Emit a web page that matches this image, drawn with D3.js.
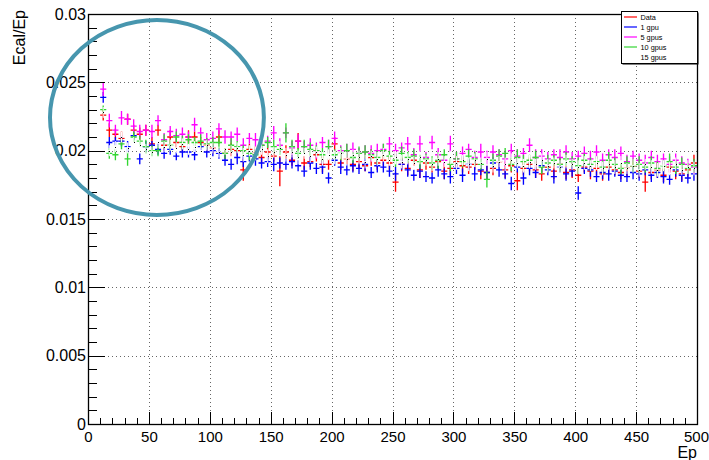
<!DOCTYPE html>
<html>
<head>
<meta charset="utf-8">
<script src="https://cdn.jsdelivr.net/npm/d3@7"></script>
<style>
  body { margin: 0; background: #fff; }
  svg { display: block; font-family: "Liberation Sans", Arial, Helvetica, sans-serif; }
</style>
</head>
<body>
<svg id="chart" width="709" height="460"></svg>
<script>
// Bin centres of the Ep histogram (5-unit bins from 10 to 500)
const binCenters = [
  12.5,17.5,22.5,27.5,32.5,37.5,42.5,47.5,52.5,57.5,
  62.5,67.5,72.5,77.5,82.5,87.5,92.5,97.5,102.5,107.5,
  112.5,117.5,122.5,127.5,132.5,137.5,142.5,147.5,152.5,157.5,
  162.5,167.5,172.5,177.5,182.5,187.5,192.5,197.5,202.5,207.5,
  212.5,217.5,222.5,227.5,232.5,237.5,242.5,247.5,252.5,257.5,
  262.5,267.5,272.5,277.5,282.5,287.5,292.5,297.5,302.5,307.5,
  312.5,317.5,322.5,327.5,332.5,337.5,342.5,347.5,352.5,357.5,
  362.5,367.5,372.5,377.5,382.5,387.5,392.5,397.5,402.5,407.5,
  412.5,417.5,422.5,427.5,432.5,437.5,442.5,447.5,452.5,457.5,
  462.5,467.5,472.5,477.5,482.5,487.5,492.5,497.5
];
const binHalfWidth = 2.5;

// Ecal/Ep per bin, with its error
const dataValues = [
  0.0226,0.0215,0.0212,0.0209,0.0223,0.0215,0.0212,0.0215,0.0205,0.0215,
  0.0204,0.0210,0.0206,0.0203,0.0210,0.0210,0.0206,0.0204,0.0202,0.0210,
  0.0198,0.0201,0.0200,0.0186,0.0201,0.0198,0.0195,0.0199,0.0196,0.0185,
  0.0199,0.0193,0.0207,0.0191,0.0192,0.0197,0.0190,0.0190,0.0205,0.0191,
  0.0194,0.0190,0.0192,0.0189,0.0195,0.0191,0.0193,0.0191,0.0177,0.0190,
  0.0187,0.0193,0.0186,0.0191,0.0188,0.0192,0.0185,0.0187,0.0192,0.0189,
  0.0188,0.0190,0.0185,0.0184,0.0187,0.0192,0.0186,0.0189,0.0178,0.0187,
  0.0190,0.0186,0.0183,0.0188,0.0185,0.0190,0.0184,0.0186,0.0182,0.0188,
  0.0185,0.0187,0.0183,0.0188,0.0186,0.0184,0.0187,0.0189,0.0185,0.0177,
  0.0184,0.0186,0.0182,0.0188,0.0185,0.0183,0.0186,0.0191
];
const dataErrors = [
  0.0004,0.0005,0.0004,0.0005,0.0004,0.0004,0.0005,0.0004,0.0005,0.0004,
  0.0004,0.0005,0.0004,0.0004,0.0005,0.0004,0.0004,0.0005,0.0004,0.0005,
  0.0004,0.0005,0.0004,0.0008,0.0004,0.0005,0.0004,0.0005,0.0004,0.0011,
  0.0005,0.0004,0.0006,0.0005,0.0004,0.0005,0.0006,0.0004,0.0005,0.0005,
  0.0004,0.0005,0.0005,0.0004,0.0006,0.0005,0.0004,0.0005,0.0007,0.0005,
  0.0005,0.0004,0.0006,0.0005,0.0004,0.0005,0.0006,0.0005,0.0004,0.0005,
  0.0005,0.0004,0.0006,0.0005,0.0005,0.0004,0.0006,0.0005,0.0007,0.0005,
  0.0005,0.0006,0.0005,0.0004,0.0006,0.0005,0.0005,0.0006,0.0005,0.0004,
  0.0006,0.0005,0.0005,0.0006,0.0004,0.0005,0.0006,0.0005,0.0005,0.0007,
  0.0005,0.0006,0.0005,0.0004,0.0006,0.0005,0.0005,0.0006
];

const gpu1Values = [
  0.0239,0.0206,0.0207,0.0207,0.0203,0.0211,0.0194,0.0203,0.0204,0.0201,
  0.0198,0.0201,0.0196,0.0199,0.0199,0.0197,0.0203,0.0199,0.0200,0.0198,
  0.0193,0.0190,0.0195,0.0192,0.0196,0.0194,0.0191,0.0192,0.0190,0.0191,
  0.0190,0.0192,0.0189,0.0185,0.0191,0.0187,0.0188,0.0180,0.0193,0.0188,
  0.0186,0.0189,0.0187,0.0190,0.0184,0.0189,0.0188,0.0185,0.0183,0.0190,
  0.0186,0.0182,0.0185,0.0181,0.0180,0.0186,0.0183,0.0181,0.0187,0.0182,
  0.0190,0.0183,0.0186,0.0184,0.0191,0.0186,0.0183,0.0176,0.0188,0.0180,
  0.0187,0.0184,0.0189,0.0186,0.0181,0.0188,0.0183,0.0185,0.0169,0.0187,
  0.0186,0.0181,0.0184,0.0183,0.0185,0.0182,0.0181,0.0184,0.0183,0.0186,
  0.0182,0.0184,0.0181,0.0179,0.0186,0.0182,0.0180,0.0183
];
const gpu1Errors = [
  0.0004,0.0004,0.0003,0.0004,0.0004,0.0003,0.0004,0.0004,0.0003,0.0004,
  0.0004,0.0004,0.0003,0.0004,0.0004,0.0004,0.0003,0.0004,0.0004,0.0004,
  0.0004,0.0004,0.0005,0.0004,0.0004,0.0005,0.0004,0.0004,0.0005,0.0004,
  0.0004,0.0005,0.0004,0.0004,0.0005,0.0004,0.0005,0.0004,0.0004,0.0005,
  0.0004,0.0005,0.0004,0.0005,0.0004,0.0005,0.0004,0.0004,0.0005,0.0004,
  0.0005,0.0004,0.0005,0.0004,0.0004,0.0005,0.0004,0.0005,0.0004,0.0005,
  0.0004,0.0005,0.0004,0.0005,0.0004,0.0005,0.0004,0.0005,0.0004,0.0005,
  0.0005,0.0004,0.0005,0.0004,0.0005,0.0004,0.0005,0.0004,0.0005,0.0004,
  0.0005,0.0004,0.0005,0.0005,0.0004,0.0005,0.0004,0.0005,0.0005,0.0004,
  0.0005,0.0004,0.0005,0.0004,0.0005,0.0005,0.0004,0.0005
];

const gpu5Values = [
  0.0245,0.0222,0.0215,0.0224,0.0223,0.0218,0.0214,0.0215,0.0214,0.0222,
  0.0208,0.0214,0.0211,0.0212,0.0210,0.0219,0.0213,0.0208,0.0209,0.0216,
  0.0210,0.0210,0.0212,0.0204,0.0209,0.0208,0.0204,0.0207,0.0213,0.0204,
  0.0213,0.0202,0.0207,0.0203,0.0204,0.0200,0.0206,0.0203,0.0209,0.0200,
  0.0200,0.0201,0.0198,0.0199,0.0198,0.0200,0.0201,0.0205,0.0200,0.0202,
  0.0205,0.0197,0.0205,0.0195,0.0206,0.0197,0.0193,0.0205,0.0194,0.0198,
  0.0201,0.0195,0.0199,0.0195,0.0199,0.0197,0.0194,0.0200,0.0196,0.0198,
  0.0204,0.0195,0.0196,0.0194,0.0197,0.0195,0.0199,0.0194,0.0196,0.0198,
  0.0194,0.0199,0.0193,0.0197,0.0195,0.0198,0.0192,0.0196,0.0193,0.0191,
  0.0195,0.0192,0.0194,0.0190,0.0193,0.0191,0.0190,0.0188
];
const gpu5Errors = [
  0.0005,0.0005,0.0004,0.0005,0.0004,0.0005,0.0005,0.0004,0.0005,0.0004,
  0.0005,0.0004,0.0005,0.0005,0.0004,0.0005,0.0004,0.0005,0.0005,0.0004,
  0.0005,0.0004,0.0005,0.0005,0.0004,0.0005,0.0005,0.0004,0.0005,0.0005,
  0.0004,0.0005,0.0005,0.0004,0.0005,0.0006,0.0004,0.0005,0.0005,0.0004,
  0.0005,0.0005,0.0004,0.0005,0.0006,0.0005,0.0004,0.0005,0.0005,0.0004,
  0.0005,0.0005,0.0006,0.0004,0.0005,0.0005,0.0004,0.0006,0.0005,0.0005,
  0.0004,0.0005,0.0006,0.0005,0.0005,0.0004,0.0006,0.0005,0.0005,0.0004,
  0.0005,0.0006,0.0005,0.0005,0.0004,0.0006,0.0005,0.0005,0.0004,0.0005,
  0.0006,0.0005,0.0005,0.0004,0.0006,0.0005,0.0005,0.0004,0.0005,0.0006,
  0.0005,0.0005,0.0004,0.0006,0.0005,0.0005,0.0004,0.0005
];

const gpu10Values = [
  0.0230,0.0198,0.0197,0.0205,0.0194,0.0210,0.0207,0.0203,0.0200,0.0200,
  0.0207,0.0204,0.0210,0.0206,0.0208,0.0206,0.0207,0.0205,0.0206,0.0206,
  0.0198,0.0204,0.0203,0.0200,0.0198,0.0197,0.0204,0.0206,0.0203,0.0201,
  0.0213,0.0203,0.0198,0.0203,0.0201,0.0200,0.0197,0.0203,0.0197,0.0198,
  0.0200,0.0195,0.0198,0.0199,0.0197,0.0195,0.0200,0.0196,0.0193,0.0198,
  0.0195,0.0196,0.0192,0.0194,0.0191,0.0193,0.0197,0.0190,0.0194,0.0192,
  0.0196,0.0194,0.0190,0.0179,0.0193,0.0196,0.0198,0.0190,0.0195,0.0192,
  0.0193,0.0195,0.0188,0.0191,0.0193,0.0190,0.0194,0.0192,0.0189,0.0193,
  0.0190,0.0192,0.0188,0.0193,0.0190,0.0187,0.0191,0.0189,0.0190,0.0188,
  0.0191,0.0187,0.0189,0.0192,0.0188,0.0190,0.0187,0.0189
];
const gpu10Errors = [
  0.0003,0.0004,0.0004,0.0004,0.0005,0.0004,0.0004,0.0005,0.0004,0.0004,
  0.0005,0.0004,0.0004,0.0005,0.0004,0.0004,0.0005,0.0004,0.0004,0.0005,
  0.0004,0.0005,0.0004,0.0004,0.0005,0.0004,0.0005,0.0004,0.0005,0.0004,
  0.0007,0.0005,0.0004,0.0005,0.0005,0.0004,0.0005,0.0005,0.0004,0.0005,
  0.0005,0.0004,0.0005,0.0005,0.0004,0.0005,0.0005,0.0004,0.0005,0.0005,
  0.0004,0.0005,0.0005,0.0004,0.0005,0.0006,0.0004,0.0005,0.0005,0.0004,
  0.0005,0.0005,0.0004,0.0006,0.0005,0.0005,0.0004,0.0005,0.0006,0.0005,
  0.0004,0.0005,0.0005,0.0006,0.0004,0.0005,0.0005,0.0004,0.0006,0.0005,
  0.0005,0.0004,0.0005,0.0006,0.0005,0.0004,0.0005,0.0005,0.0006,0.0004,
  0.0005,0.0005,0.0004,0.0006,0.0005,0.0005,0.0004,0.0005
];

const gpu15Values = [
  0.0228,0.0200,0.0203,0.0210,0.0202,0.0206,0.0204,0.0201,0.0199,0.0206,
  0.0203,0.0204,0.0202,0.0205,0.0201,0.0203,0.0200,0.0204,0.0202,0.0199,
  0.0201,0.0199,0.0202,0.0197,0.0200,0.0198,0.0201,0.0196,0.0199,0.0202,
  0.0197,0.0199,0.0195,0.0198,0.0196,0.0199,0.0194,0.0197,0.0195,0.0198,
  0.0194,0.0197,0.0195,0.0192,0.0196,0.0194,0.0197,0.0193,0.0195,0.0192,
  0.0194,0.0191,0.0195,0.0193,0.0190,0.0194,0.0192,0.0195,0.0191,0.0193,
  0.0190,0.0193,0.0191,0.0194,0.0189,0.0192,0.0190,0.0193,0.0191,0.0189,
  0.0192,0.0190,0.0193,0.0189,0.0191,0.0188,0.0192,0.0190,0.0188,0.0191,
  0.0189,0.0191,0.0187,0.0190,0.0188,0.0191,0.0187,0.0189,0.0186,0.0190,
  0.0188,0.0186,0.0189,0.0187,0.0190,0.0186,0.0188,0.0187
];
const gpu15Errors = [
  0.0004,0.0004,0.0004,0.0004,0.0004,0.0004,0.0004,0.0004,0.0004,0.0004,
  0.0004,0.0004,0.0004,0.0004,0.0004,0.0004,0.0004,0.0004,0.0004,0.0004,
  0.0004,0.0005,0.0004,0.0005,0.0004,0.0005,0.0004,0.0005,0.0004,0.0005,
  0.0005,0.0004,0.0005,0.0004,0.0005,0.0004,0.0005,0.0004,0.0005,0.0004,
  0.0005,0.0004,0.0005,0.0005,0.0004,0.0005,0.0005,0.0004,0.0005,0.0005,
  0.0004,0.0005,0.0005,0.0004,0.0005,0.0005,0.0004,0.0005,0.0005,0.0004,
  0.0005,0.0005,0.0004,0.0005,0.0005,0.0004,0.0005,0.0005,0.0004,0.0005,
  0.0005,0.0004,0.0005,0.0005,0.0004,0.0005,0.0005,0.0004,0.0005,0.0005,
  0.0004,0.0005,0.0005,0.0004,0.0005,0.0005,0.0004,0.0005,0.0005,0.0004,
  0.0005,0.0005,0.0004,0.0005,0.0005,0.0004,0.0005,0.0005
];

const seriesNames = ["Data", "1 gpu", "5 gpus", "10 gpus", "15 gpus"];
const seriesColors = ["#ff0000", "#0000ff", "#ff00ff", "#33d633", "#ffffff"];
const seriesValues = [dataValues, gpu1Values, gpu5Values, gpu10Values, gpu15Values];
const seriesErrors = [dataErrors, gpu1Errors, gpu5Errors, gpu10Errors, gpu15Errors];

const xTickValues = [0, 50, 100, 150, 200, 250, 300, 350, 400, 450, 500];
const yTickValues = [0, 0.005, 0.01, 0.015, 0.02, 0.025, 0.03];
const yTickLabels = ["0", "0.005", "0.01", "0.015", "0.02", "0.025", "0.03"];

// Highlight ellipse, in data units: centre (Ep, Ecal/Ep) and radii
const highlight = { cx: 56.6, cy: 0.02243, rx: 87.8, ry: 0.00713 };

const svg = d3.select("#chart");
const W = 709, H = 460;
const frame = { left: 88, right: 697, top: 14, bottom: 424 };

const x = d3.scaleLinear().domain([0, 500]).range([frame.left, frame.right]);
const y = d3.scaleLinear().domain([0, 0.03]).range([frame.bottom, frame.top]);

svg.append("rect").attr("width", W).attr("height", H).attr("fill", "#fff");

// Dotted grid at the major divisions
const grid = svg.append("g").attr("stroke", "#666").attr("stroke-width", 1)
  .attr("stroke-dasharray", "1 3").attr("shape-rendering", "crispEdges");
grid.selectAll("line.gx").data(xTickValues.slice(1, -1)).join("line")
  .attr("x1", d => Math.round(x(d)) + 0.5).attr("x2", d => Math.round(x(d)) + 0.5)
  .attr("y1", frame.top).attr("y2", frame.bottom);
grid.selectAll("line.gy").data(yTickValues.slice(1, -1)).join("line")
  .attr("y1", d => Math.round(y(d)) + 0.5).attr("y2", d => Math.round(y(d)) + 0.5)
  .attr("x1", frame.left).attr("x2", frame.right);

// Error-bar crosses for each series, drawn in order so later series overlay earlier ones
const plot = svg.append("g");
seriesValues.forEach((vals, si) => {
  const errs = seriesErrors[si];
  const last = si === seriesValues.length - 1;
  const pts = binCenters.map((c, i) => ({ c, v: vals[i], e: errs[i] }));
  const g = plot.append("g").attr("stroke", seriesColors[si])
    .attr("stroke-width", last ? 1 : 1.35).attr("fill", "none");
  g.selectAll("path").data(pts).join("path")
    .attr("d", d => {
      const cx = x(d.c), cy = y(d.v);
      return `M${x(d.c - binHalfWidth)},${cy}H${x(d.c + binHalfWidth)}` +
             `M${cx},${y(d.v + d.e)}V${y(d.v - d.e)}`;
    });
  if (last) {
    plot.append("g").attr("fill", "#000").selectAll("rect").data(pts).join("rect")
      .attr("x", d => Math.round(x(d.c))).attr("y", d => Math.round(y(d.v)))
      .attr("width", 1).attr("height", 1);
  }
});

// Frame
svg.append("rect")
  .attr("x", frame.left + 0.5).attr("y", frame.top + 0.5)
  .attr("width", frame.right - frame.left).attr("height", frame.bottom - frame.top)
  .attr("fill", "none").attr("stroke", "#000").attr("stroke-width", 1.3);

const fontSize = 16;
const xFontSize = 15;

// X axis: major ticks with labels, minor ticks every 10
const xAxis = svg.append("g").attr("transform", `translate(0,${frame.bottom})`)
  .call(d3.axisBottom(x).tickValues(xTickValues).tickSize(-12).tickFormat(d3.format("d")));
svg.append("g").attr("transform", `translate(0,${frame.bottom})`)
  .call(d3.axisBottom(x).ticks(50).tickSize(-6).tickFormat(""));

// Y axis: major ticks with labels, minor ticks every 0.001
const yAxis = svg.append("g").attr("transform", `translate(${frame.left},0)`)
  .call(d3.axisLeft(y).tickValues(yTickValues).tickSize(-17).tickPadding(2)
    .tickFormat((d, i) => yTickLabels[i]));
svg.append("g").attr("transform", `translate(${frame.left},0)`)
  .call(d3.axisLeft(y).tickValues(d3.range(0, 31).map(k => k / 1000)).tickSize(-8.5).tickFormat(""));

svg.selectAll(".domain").remove();
svg.selectAll(".tick line").attr("stroke", "#000").attr("shape-rendering", "crispEdges");
svg.selectAll(".tick text").attr("font-size", fontSize).attr("font-family", "Liberation Sans, Arial, sans-serif").attr("fill", "#000");
xAxis.selectAll(".tick text").attr("font-size", xFontSize).attr("dy", "0.35em").attr("y", 13);
// keep the last x label inside the canvas
xAxis.selectAll(".tick text").filter(d => d === 500).attr("text-anchor", "end").attr("x", 11.5);

// Axis titles
svg.append("text").attr("x", frame.right).attr("y", 458)
  .attr("text-anchor", "end").attr("font-size", fontSize).text("Ep");
svg.append("text").attr("transform", `translate(25,10) rotate(-90)`)
  .attr("text-anchor", "end").attr("font-size", fontSize).text("Ecal/Ep");

// Legend
const leg = { x: 621, y: 11, w: 76, h: 52 };
svg.append("rect").attr("x", leg.x + 1.5).attr("y", leg.y + 1.5).attr("width", leg.w).attr("height", leg.h)
  .attr("fill", "#000");
svg.append("rect").attr("x", leg.x + 0.5).attr("y", leg.y + 0.5).attr("width", leg.w).attr("height", leg.h)
  .attr("fill", "#fff").attr("stroke", "#000").attr("stroke-width", 1);
const legRows = svg.append("g").selectAll("g").data(seriesNames).join("g")
  .attr("transform", (d, i) => `translate(${leg.x},${leg.y + 6 + i * 10})`);
legRows.append("line").attr("x1", 3).attr("x2", 16).attr("y1", 0).attr("y2", 0)
  .attr("stroke", (d, i) => seriesColors[i]).attr("stroke-width", 1.2);
legRows.append("text").attr("x", 19.5).attr("y", 2.7).attr("font-size", 7.3).text(d => d);

// Highlight ellipse around the low-Ep region
svg.append("ellipse")
  .attr("cx", x(highlight.cx)).attr("cy", y(highlight.cy))
  .attr("rx", x(highlight.rx) - x(0)).attr("ry", y(0) - y(highlight.ry))
  .attr("fill", "none").attr("stroke", "#4796ae").attr("stroke-width", 4);
</script>
</body>
</html>
